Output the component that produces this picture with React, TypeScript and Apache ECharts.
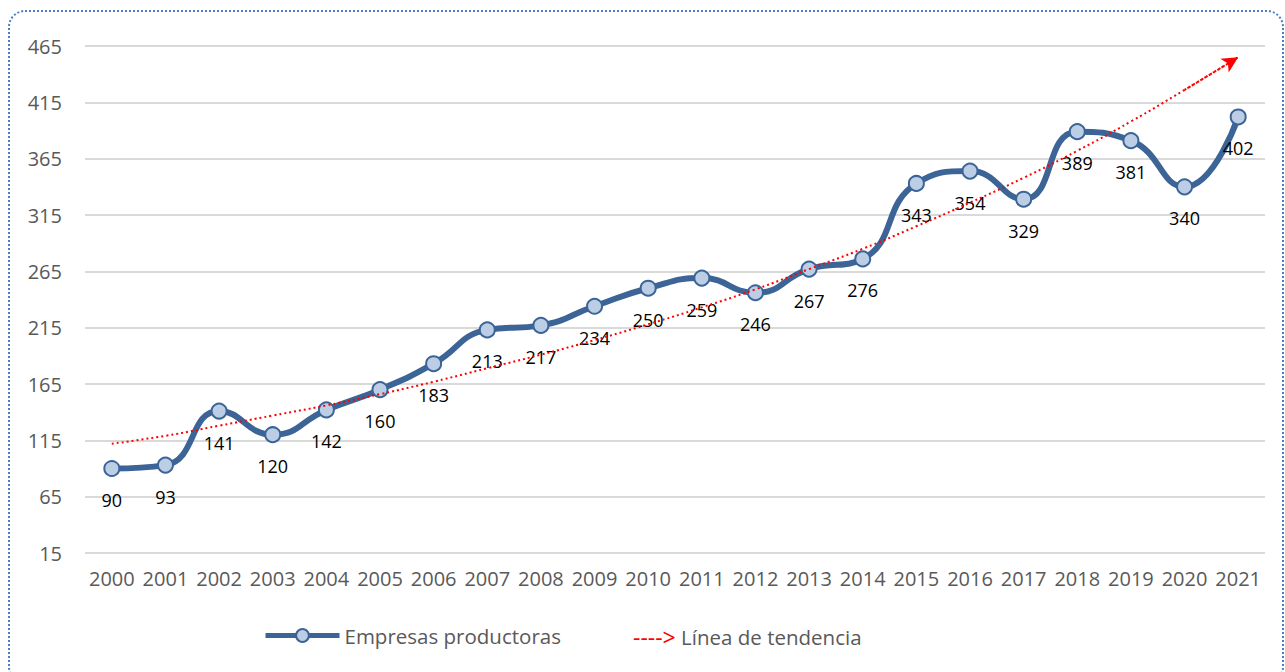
import React, { useEffect, useRef } from "react";
import * as echarts from "echarts";

const years = ["2000","2001","2002","2003","2004","2005","2006","2007","2008","2009","2010","2011","2012","2013","2014","2015","2016","2017","2018","2019","2020","2021"];
const empresas = [90, 93, 141, 120, 142, 160, 183, 213, 217, 234, 250, 259, 246, 267, 276, 343, 354, 329, 389, 381, 340, 402];
// trend line values (red dotted curve)
const tendencia = [112, 119, 128, 137, 146, 156, 167, 179, 191, 204, 218, 233, 249, 267, 285, 305, 326, 348, 372, 398, 426, 455];
const yMin = 15;
const yMax = 465;
const yStep = 50;

const FONT = "'Open Sans', 'Noto Sans', sans-serif";

export default function App() {
  const ref = useRef<HTMLDivElement>(null);
  useEffect(() => {
    if (!ref.current) return;
    const chart = echarts.init(ref.current, null, { renderer: "svg" });
    const n = tendencia.length;
    chart.setOption({
      animation: false,
      backgroundColor: "#ffffff",
      textStyle: { fontFamily: FONT },
      grid: { left: 85, right: 20, top: 46, bottom: 119, containLabel: false },
      xAxis: {
        type: "category",
        data: years,
        boundaryGap: true,
        axisLine: { show: false },
        axisTick: { show: false },
        axisLabel: { color: "#595959", fontSize: 20, margin: 15, fontFamily: FONT, interval: 0 },
      },
      yAxis: {
        type: "value",
        min: yMin,
        max: yMax,
        interval: yStep,
        axisLine: { show: false },
        axisTick: { show: false },
        axisLabel: { color: "#595959", fontSize: 20, margin: 23, fontFamily: FONT },
        splitLine: { lineStyle: { color: "#D9D9D9", width: 2 } },
      },
      legend: [
        {
          left: 258,
          top: 620,
          itemWidth: 74,
          itemHeight: 16,
          itemGap: 5,
          data: ["Empresas productoras"],
          lineStyle: { width: 5, color: "#3C6497" },
          textStyle: { color: "#595959", fontSize: 20.5, fontFamily: FONT },
          selectedMode: false,
        },
        {
          left: 623,
          top: 620,
          icon: "none",
          itemWidth: 0,
          itemHeight: 16,
          data: [{ name: "Línea de tendencia", icon: "none" }],
          formatter: (name: string) => "{r|---->} " + name,
          textStyle: {
            color: "#595959",
            fontSize: 20.5,
            fontFamily: FONT,
            rich: { r: { color: "#FF0000", fontSize: 23, fontFamily: FONT } },
          },
          selectedMode: false,
        },
      ],
      graphic: [
        {
          type: "rect",
          shape: { x: 9, y: 11, width: 1274, height: 672, r: 16 },
          style: { fill: "none", stroke: "#4A7EC2", lineWidth: 2, lineDash: [2, 2] },
          silent: true,
          z: -1,
        },
      ],
      series: [
        {
          name: "Línea de tendencia",
          type: "line",
          data: tendencia,
          symbol: "none",
          smooth: true,
          color: "#FF0000",
          lineStyle: { color: "#FF0000", width: 2, type: [2, 3] },
          z: 3,
          markLine: {
            silent: true,
            symbol: ["none", "arrow"],
            symbolSize: [12, 16],
            label: { show: false },
            lineStyle: { color: "#FF0000", width: 2, type: [2, 3] },
            data: [[{ coord: [years[n - 2], tendencia[n - 2]] }, { coord: [years[n - 1], tendencia[n - 1]] }]],
          },
        },
        {
          name: "Empresas productoras",
          type: "line",
          data: empresas,
          smooth: true,
          color: "#3C6497",
          symbol: "circle",
          symbolSize: 15,
          lineStyle: { color: "#3C6497", width: 6 },
          itemStyle: { color: "#BCCEE6", borderColor: "#3C6497", borderWidth: 2 },
          label: {
            show: true,
            position: "bottom",
            distance: 14,
            color: "#000000",
            fontSize: 18,
            fontFamily: FONT,
          },
          z: 2,
        },
      ],
    });
    return () => chart.dispose();
  }, []);
  return (
    <div
      ref={ref}
      style={{ position: "absolute", left: 0, top: 0, width: 1285, height: 672 }}
    />
  );
}
